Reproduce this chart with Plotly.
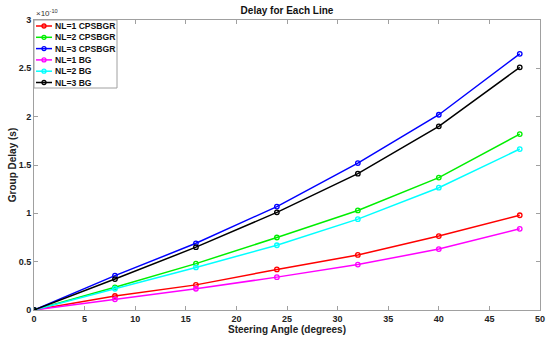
import plotly.graph_objects as go

angles = [0, 8, 16, 24, 32, 40, 48]
nl1_cps = [0, 0.145, 0.26, 0.42, 0.57, 0.765, 0.98]
nl2_cps = [0, 0.235, 0.48, 0.75, 1.03, 1.37, 1.82]
nl3_cps = [0, 0.355, 0.69, 1.07, 1.52, 2.02, 2.65]
nl1_bg = [0, 0.11, 0.22, 0.34, 0.47, 0.63, 0.84]
nl2_bg = [0, 0.22, 0.44, 0.67, 0.94, 1.265, 1.665]
nl3_bg = [0, 0.32, 0.65, 1.01, 1.41, 1.90, 2.51]

names = ["NL=1 CPSBGR", "NL=2 CPSBGR", "NL=3 CPSBGR", "NL=1 BG", "NL=2 BG", "NL=3 BG"]
series = [nl1_cps, nl2_cps, nl3_cps, nl1_bg, nl2_bg, nl3_bg]
colors = ["#ff0000", "#00ee00", "#0000ff", "#ff00ff", "#00ffff", "#000000"]

fig = go.Figure()
for n, s, c in zip(names, series, colors):
    fig.add_trace(go.Scatter(
        x=angles, y=s, name=n, mode="lines+markers", showlegend=False,
        line=dict(color=c, width=1.5),
        marker=dict(symbol="circle-open", size=4.5, color=c, line=dict(width=1.3, color=c)),
    ))

font = "Liberation Sans, Arial, sans-serif"
axis_common = dict(
    showline=True, linecolor="#a0a0a0", linewidth=1, mirror="allticks",
    ticks="inside", ticklen=4, tickcolor="#a0a0a0",
    showgrid=False, zeroline=False, automargin=False,
    tickfont=dict(family=font, size=9, color="#222222", weight="bold"),
)
fig.update_xaxes(range=[0, 50], tickvals=list(range(0, 55, 5)),
                 title=dict(text="Steering Angle (degrees)",
                            font=dict(family=font, size=10, color="#222", weight="bold"), standoff=2),
                 **axis_common)
fig.update_yaxes(range=[0, 3], tickvals=[0, 0.5, 1, 1.5, 2, 2.5, 3],
                 title=dict(text="Group Delay (s)",
                            font=dict(family=font, size=10, color="#222", weight="bold"), standoff=0),
                 **axis_common)

# plot area in pixels: left 34, right 540, top 20, bottom 310
L, R, T, B = 34, 540, 20, 310
W, H = R - L, B - T
def fx(px):
    return (px - L) / W
def fy(py):
    return (B - py) / H

shapes = []
annotations = []
# legend box
shapes.append(dict(type="rect", xref="paper", yref="paper",
                   x0=fx(34), x1=fx(117), y0=fy(88), y1=fy(20),
                   line=dict(color="#a0a0a0", width=1), fillcolor="white", layer="above"))
row0, dy = 26, 11.3
for i, (n, c) in enumerate(zip(names, colors)):
    py = row0 + i * dy
    shapes.append(dict(type="line", xref="paper", yref="paper",
                       x0=fx(36), x1=fx(52), y0=fy(py), y1=fy(py),
                       line=dict(color=c, width=1.5), layer="above"))
    shapes.append(dict(type="circle", xref="paper", yref="paper",
                       x0=fx(42), x1=fx(46), y0=fy(py + 2), y1=fy(py - 2),
                       line=dict(color=c, width=1.3), layer="above"))
    annotations.append(dict(text=n, x=fx(53), y=fy(py), xref="paper", yref="paper",
                            xanchor="left", yanchor="middle", showarrow=False,
                            font=dict(family=font, size=8.6, color="#111", weight="bold")))

annotations.append(dict(text="×10<sup>-10</sup>", x=0, y=1, xref="paper", yref="paper",
                        xanchor="left", yanchor="bottom", showarrow=False,
                        font=dict(family=font, size=8, color="#333")))

fig.update_layout(
    width=550, height=340,
    margin=dict(l=L, r=550 - R, t=T, b=340 - B, autoexpand=False),
    paper_bgcolor="white", plot_bgcolor="white",
    title=dict(text="Delay for Each Line", x=0.5, xref="paper", xanchor="center",
               y=1 - 10 / 340, yanchor="middle",
               font=dict(family=font, size=10, color="#111", weight="bold")),
    shapes=shapes, annotations=annotations,
    showlegend=False,
)

fig.write_html("out.html", config={"displayModeBar": False},
               post_script="document.body.style.margin='0';document.body.style.overflow='hidden';")
